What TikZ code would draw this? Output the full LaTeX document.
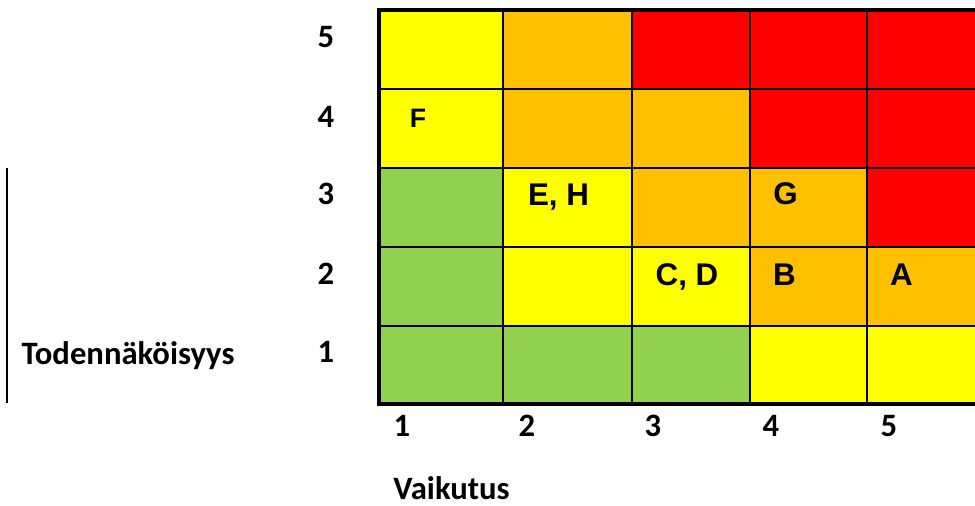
\documentclass[tikz,border=0pt]{standalone}
\usepackage{fontspec}
\setmainfont{Carlito}
\newfontfamily\arialfont{Liberation Sans}
\definecolor{cyel}{HTML}{FFFF00}
\definecolor{cora}{HTML}{FFC000}
\definecolor{cred}{HTML}{FF0000}
\definecolor{cgrn}{HTML}{92D050}
\begin{document}
\begin{tikzpicture}[x=0.75pt,y=-0.75pt,
  gridline/.style={line width=2.2pt,black},
  outerline/.style={line width=2.6pt,black},
  axislabel/.style={font=\fontsize{24.5}{29}\selectfont\bfseries,inner sep=0pt,anchor=base},
  celllabel/.style={font=\arialfont\fontsize{23.5}{28}\selectfont\bfseries,inner sep=0pt,anchor=base},
  smallcelllabel/.style={font=\arialfont\fontsize{20}{24}\selectfont\bfseries,inner sep=0pt,anchor=base}]
\useasboundingbox (0,0) rectangle (975,506);
% row 5
\fill[cyel] (379,10) rectangle (503,89);
\fill[cora] (503,10) rectangle (632,89);
\fill[cred] (632,10) rectangle (750,89);
\fill[cred] (750,10) rectangle (867,89);
\fill[cred] (867,10) rectangle (975,89);
% row 4
\fill[cyel] (379,89) rectangle (503,168);
\fill[cora] (503,89) rectangle (632,168);
\fill[cora] (632,89) rectangle (750,168);
\fill[cred] (750,89) rectangle (867,168);
\fill[cred] (867,89) rectangle (975,168);
% row 3
\fill[cgrn] (379,168) rectangle (503,247);
\fill[cyel] (503,168) rectangle (632,247);
\fill[cora] (632,168) rectangle (750,247);
\fill[cora] (750,168) rectangle (867,247);
\fill[cred] (867,168) rectangle (975,247);
% row 2
\fill[cgrn] (379,247) rectangle (503,326);
\fill[cyel] (503,247) rectangle (632,326);
\fill[cyel] (632,247) rectangle (750,326);
\fill[cora] (750,247) rectangle (867,326);
\fill[cora] (867,247) rectangle (975,326);
% row 1
\fill[cgrn] (379,326) rectangle (503,404);
\fill[cgrn] (503,326) rectangle (632,404);
\fill[cgrn] (632,326) rectangle (750,404);
\fill[cyel] (750,326) rectangle (867,404);
\fill[cyel] (867,326) rectangle (975,404);
% inner grid
\foreach \gx in {503,632,750,867} \draw[gridline] (\gx,10) -- (\gx,404);
\foreach \gy in {89,168,247,326} \draw[gridline] (379,\gy) -- (975,\gy);
% outer border
\draw[outerline] (975,10) -- (379,10) -- (379,404) -- (975,404);
% left vertical line
\coordinate (lt) at (7,168);
\coordinate (lb) at (7,403);
\draw[line width=1.5pt] (lt) -- (lb);
% row labels
\node[axislabel] (r5) at (326,48) {5};
\node[axislabel] (r4) at (326,128) {4};
\node[axislabel] (r3) at (326,205) {3};
\node[axislabel] (r2) at (326,284) {2};
\node[axislabel] (r1) at (326,362) {1};
% column labels
\node[axislabel] (c1) at (402,436) {1};
\node[axislabel] (c2) at (527,436) {2};
\node[axislabel] (c3) at (653,436) {3};
\node[axislabel] (c4) at (771,436) {4};
\node[axislabel] (c5) at (889,436) {5};
% axis titles
\node[axislabel] (ytitle) at (128,364) {Todennäköisyys};
\node[axislabel] (xtitle) at (451.5,499) {Vaikutus};
% cell labels
\node[smallcelllabel] (lf) at (418,128) {F};
\node[celllabel] (leh) at (558.5,206) {E, H};
\node[celllabel] (lg) at (785.5,205) {G};
\node[celllabel] (lcd) at (687,285) {C, D};
\node[celllabel] (lb2) at (784.5,285) {B};
\node[celllabel] (la) at (901.5,285) {A};
\end{tikzpicture}
\end{document}
